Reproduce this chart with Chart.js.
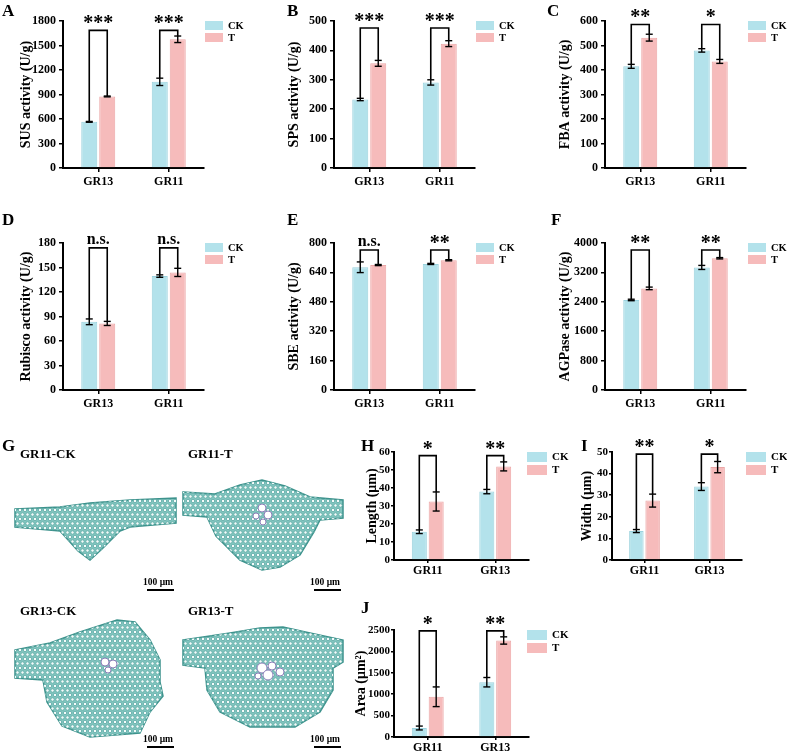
<!DOCTYPE html>
<html>
<head>
<meta charset="utf-8">
<script src="https://cdn.jsdelivr.net/npm/chart.js@4.4.1/dist/chart.umd.min.js"></script>
<style>
  body { margin: 0; background: #fff; width: 787px; height: 752px; position: relative; overflow: hidden;
         font-family: 'Liberation Serif', 'Times New Roman', serif; }
  canvas { position: absolute; }
  .lbl { position: absolute; font-weight: bold; white-space: nowrap; line-height: 1; color: #000; }
  .bar { position: absolute; height: 2px; background: #000; }
</style>
</head>
<body>
<script>
// ---- data ----
const seriesNames = ['CK', 'T'];
const groupsTop = ['GR13', 'GR11'];
const groupsBottom = ['GR11', 'GR13'];

// A: SUS
const susCK = [565, 1055], susCKErr = [5, 45];
const susT = [876, 1576], susTErr = [5, 40];
const susSig = ['***', '***'], susBracketAt = 1685;
const susTicks = [0, 300, 600, 900, 1200, 1500, 1800];

// B: SPS
const spsCK = [233, 291], spsCKErr = [4, 9];
const spsT = [356, 423], spsTErr = [10, 10];
const spsSig = ['***', '***'], spsBracketAt = 476;
const spsTicks = [0, 100, 200, 300, 400, 500];

// C: FBA
const fbaCK = [415, 480], fbaCKErr = [8, 7];
const fbaT = [532, 435], fbaTErr = [14, 8];
const fbaSig = ['**', '*'], fbaBracketAt = 586;
const fbaTicks = [0, 100, 200, 300, 400, 500, 600];

// D: Rubisco
const rubCK = [83.5, 139.5], rubCKErr = [3.5, 1.5];
const rubT = [81.5, 144], rubTErr = [2.5, 5];
const rubSig = ['n.s.', 'n.s.'], rubBracketAt = 174;
const rubTicks = [0, 30, 60, 90, 120, 150, 180];

// E: SBE
const sbeCK = [668, 686], sbeCKErr = [29, 3];
const sbeT = [680, 706], sbeTErr = [3, 3];
const sbeSig = ['n.s.', '**'], sbeBracketAt = 762;
const sbeTicks = [0, 160, 320, 480, 640, 800];

// F: AGPase
const agpCK = [2450, 3335], agpCKErr = [20, 55];
const agpT = [2765, 3585], agpTErr = [35, 18];
const agpSig = ['**', '**'], agpBracketAt = 3810;
const agpTicks = [0, 800, 1600, 2400, 3200, 4000];

// H: length
const lenCK = [15.7, 38], lenCKErr = [1, 1.2];
const lenT = [32.5, 52], lenTErr = [5.3, 2.5];
const lenSig = ['*', '**'], lenBracketAt = 58;
const lenTicks = [0, 10, 20, 30, 40, 50, 60];

// I: width
const widCK = [13.4, 34], widCKErr = [0.7, 1.8];
const widT = [27.5, 43], widTErr = [3, 2.6];
const widSig = ['**', '*'], widBracketAt = 49;
const widTicks = [0, 10, 20, 30, 40, 50];

// J: area
const areaCK = [210, 1280], areaCKErr = [45, 110];
const areaT = [940, 2255], areaTErr = [230, 85];
const areaSig = ['*', '**'], areaBracketAt = 2480;
const areaTicks = [0, 500, 1000, 1500, 2000, 2500];

// ---- styling ----
const FONT = "'Liberation Serif', 'Times New Roman', serif";
const ckFill = '#B3E2EB', ckEdge = '#9BD2DE';
const tFill = '#F6BBBB', tEdge = '#EBA6A6';

const panels = [
  { letter: 'A', lx: 2, ly: 2, box: [0, 0, 262, 195], area: [63, 21, 204, 168], groups: groupsTop,
    ck: susCK, ckErr: susCKErr, t: susT, tErr: susTErr, sig: susSig, bracketAt: susBracketAt, ticks: susTicks,
    yTitle: 'SUS activity (U/g)', titleDx: 37, legDx: 1, small: false },
  { letter: 'B', lx: 287, ly: 2, box: [262, 0, 262, 195], area: [334, 21, 475, 168], groups: groupsTop,
    ck: spsCK, ckErr: spsCKErr, t: spsT, tErr: spsTErr, sig: spsSig, bracketAt: spsBracketAt, ticks: spsTicks,
    yTitle: 'SPS activity (U/g)', titleDx: 40, legDx: 1, small: false },
  { letter: 'C', lx: 547, ly: 2, box: [524, 0, 263, 195], area: [605, 21, 746, 168], groups: groupsTop,
    ck: fbaCK, ckErr: fbaCKErr, t: fbaT, tErr: fbaTErr, sig: fbaSig, bracketAt: fbaBracketAt, ticks: fbaTicks,
    yTitle: 'FBA activity (U/g)', titleDx: 40, legDx: 2, small: false },
  { letter: 'D', lx: 2, ly: 211, box: [0, 195, 262, 225], area: [63, 243, 204, 390], groups: groupsTop,
    ck: rubCK, ckErr: rubCKErr, t: rubT, tErr: rubTErr, sig: rubSig, bracketAt: rubBracketAt, ticks: rubTicks,
    yTitle: 'Rubisco activity (U/g)', titleDx: 37, legDx: 1, small: false },
  { letter: 'E', lx: 287, ly: 211, box: [262, 195, 262, 225], area: [334, 243, 475, 390], groups: groupsTop,
    ck: sbeCK, ckErr: sbeCKErr, t: sbeT, tErr: sbeTErr, sig: sbeSig, bracketAt: sbeBracketAt, ticks: sbeTicks,
    yTitle: 'SBE activity (U/g)', titleDx: 40, legDx: 1, small: false },
  { letter: 'F', lx: 551, ly: 211, box: [524, 195, 263, 225], area: [605, 243, 746, 390], groups: groupsTop,
    ck: agpCK, ckErr: agpCKErr, t: agpT, tErr: agpTErr, sig: agpSig, bracketAt: agpBracketAt, ticks: agpTicks,
    yTitle: 'AGPase activity (U/g)', titleDx: 40, legDx: 2, small: false },
  { letter: 'H', lx: 361, ly: 437, box: [345, 425, 225, 160], area: [394, 452, 529, 560], groups: groupsBottom,
    ck: lenCK, ckErr: lenCKErr, t: lenT, tErr: lenTErr, sig: lenSig, bracketAt: lenBracketAt, ticks: lenTicks,
    yTitle: 'Length (μm)', titleDx: 22, legDx: -2, small: true },
  { letter: 'I', lx: 581, ly: 437, box: [570, 425, 217, 160], area: [612, 452, 742, 560], groups: groupsBottom,
    ck: widCK, ckErr: widCKErr, t: widT, tErr: widTErr, sig: widSig, bracketAt: widBracketAt, ticks: widTicks,
    yTitle: 'Width (μm)', titleDx: 25, legDx: 4, small: true },
  { letter: 'J', lx: 361, ly: 599, box: [345, 590, 225, 162], area: [394, 630, 529, 737], groups: groupsBottom,
    ck: areaCK, ckErr: areaCKErr, t: areaT, tErr: areaTErr, sig: areaSig, bracketAt: areaBracketAt, ticks: areaTicks,
    yTitle: 'Area (μm²)', titleDx: 33, legDx: -2, small: true }
];

function addLabel(text, x, y, size) {
  const d = document.createElement('div');
  d.className = 'lbl';
  d.textContent = text;
  d.style.left = x + 'px';
  d.style.top = y + 'px';
  d.style.fontSize = size + 'px';
  document.body.appendChild(d);
}

function line(ctx, pts) {
  ctx.beginPath();
  ctx.moveTo(pts[0][0], pts[0][1]);
  for (let i = 1; i < pts.length; i++) ctx.lineTo(pts[i][0], pts[i][1]);
  ctx.stroke();
}

// error bars, significance brackets, y title and legend
function decoPlugin(p) {
  return {
    id: 'deco' + p.letter,
    afterDatasetsDraw(chart) {
      const ctx = chart.ctx, ys = chart.scales.y, area = chart.chartArea;
      const metaCK = chart.getDatasetMeta(0), metaT = chart.getDatasetMeta(1);
      ctx.save();
      ctx.strokeStyle = '#000';
      ctx.fillStyle = '#000';
      ctx.lineWidth = 1.4;
      [[metaCK, p.ck, p.ckErr], [metaT, p.t, p.tErr]].forEach(([meta, vals, errs]) => {
        vals.forEach((v, i) => {
          const x = meta.data[i].x;
          const yHi = ys.getPixelForValue(v + errs[i]);
          const yLo = ys.getPixelForValue(v - errs[i]);
          line(ctx, [[x, yHi], [x, yLo]]);
          line(ctx, [[x - 3.5, yHi], [x + 3.5, yHi]]);
          line(ctx, [[x - 3.5, yLo], [x + 3.5, yLo]]);
        });
      });

      ctx.lineWidth = 1.6;
      p.groups.forEach((g, i) => {
        const x0 = metaCK.data[i].x, x1 = metaT.data[i].x;
        const y0 = ys.getPixelForValue(p.ck[i] + p.ckErr[i]);
        const y1 = ys.getPixelForValue(p.t[i] + p.tErr[i]);
        const yb = ys.getPixelForValue(p.bracketAt);
        line(ctx, [[x0, y0], [x0, yb], [x1, yb], [x1, y1]]);
        const stars = p.sig[i].indexOf('*') >= 0;
        ctx.textAlign = 'center';
        ctx.textBaseline = 'alphabetic';
        ctx.font = 'bold ' + (stars ? 20 : 16) + 'px ' + FONT;
        ctx.fillText(p.sig[i], (x0 + x1) / 2, stars ? yb - 1 : yb - 4);
      });

      // y axis title
      ctx.save();
      ctx.translate(area.left - p.titleDx, (area.top + area.bottom) / 2);
      ctx.rotate(-Math.PI / 2);
      ctx.font = 'bold 14px ' + FONT;
      ctx.textAlign = 'center';
      ctx.textBaseline = 'middle';
      ctx.fillText(p.yTitle, 0, 0);
      ctx.restore();

      // legend
      const bw = p.small ? 20 : 18, bh = p.small ? 10 : 9, step = p.small ? 13 : 12;
      const lx = area.right + p.legDx;
      [[ckFill, ckEdge], [tFill, tEdge]].forEach(([fill, edge], k) => {
        const ly = area.top + k * step;
        ctx.fillStyle = fill;
        ctx.fillRect(lx, ly, bw, bh);
        ctx.fillStyle = '#000';
        ctx.font = 'bold ' + (p.small ? 11 : 10.5) + 'px ' + FONT;
        ctx.textAlign = 'left';
        ctx.textBaseline = 'middle';
        ctx.fillText(seriesNames[k], lx + bw + 5, ly + bh / 2 + 0.5);
      });
      ctx.restore();
    }
  };
}

function makePanel(p) {
  const [bx, by, bw, bh] = p.box;
  const [l, t, r, b] = p.area;
  const cv = document.createElement('canvas');
  cv.width = bw;
  cv.height = bh;
  cv.style.left = bx + 'px';
  cv.style.top = by + 'px';
  document.body.appendChild(cv);

  const tickFont = { family: FONT, weight: 'bold', size: p.small ? 11 : 12 };
  const axisGrid = { drawOnChartArea: false, color: '#000', lineWidth: 1.5, tickLength: p.small ? 3 : 4 };
  const catPct = p.small ? 0.5 : 0.51;

  new Chart(cv, {
    type: 'bar',
    data: {
      labels: p.groups,
      datasets: [
        { label: seriesNames[0], data: p.ck, backgroundColor: ckFill, borderColor: ckEdge, borderWidth: 1,
          categoryPercentage: catPct, barPercentage: 0.89 },
        { label: seriesNames[1], data: p.t, backgroundColor: tFill, borderColor: tEdge, borderWidth: 1,
          categoryPercentage: catPct, barPercentage: 0.89 }
      ]
    },
    options: {
      responsive: false,
      animation: false,
      events: [],
      layout: { padding: { left: 0, top: t - by, right: bx + bw - r, bottom: 0 } },
      plugins: { legend: { display: false }, tooltip: { enabled: false } },
      scales: {
        x: {
          offset: true,
          grid: Object.assign({ offset: false }, axisGrid),
          border: { color: '#000', width: 2 },
          ticks: { color: '#000', font: { family: FONT, weight: 'bold', size: 12 }, padding: p.small ? 1 : 3 },
          afterFit: s => { s.height = by + bh - b; }
        },
        y: {
          min: 0,
          max: p.ticks[p.ticks.length - 1],
          grid: axisGrid,
          border: { color: '#000', width: 2 },
          ticks: { stepSize: p.ticks[1] - p.ticks[0], color: '#000', font: tickFont, padding: p.small ? 1 : 3,
                   callback: v => String(v) },
          afterFit: s => { s.width = l - bx; }
        }
      }
    },
    plugins: [decoPlugin(p)]
  });
  addLabel(p.letter, p.lx, p.ly, 17);
}

panels.forEach(makePanel);

// ---- panel G: leaf cross-section sketches ----
const sections = [
  { name: 'GR11-CK', lx: 20, ly: 447, sx: 143, sy: 578,
    outline: [[15,509],[60,507],[90,503],[130,500],[176,498],[176,523],[130,527],[120,531],[102,549],[90,560],[78,551],[60,531],[15,527]],
    vessels: [] },
  { name: 'GR11-T', lx: 188, ly: 447, sx: 310, sy: 578,
    outline: [[183,492],[215,494],[240,485],[262,480],[285,486],[310,497],[343,500],[343,518],[320,520],[314,532],[300,555],[280,567],[262,570],[240,560],[216,536],[207,517],[183,515]],
    vessels: [[262,508,4],[268,515,4],[256,516,3],[263,522,3]] },
  { name: 'GR13-CK', lx: 20, ly: 604, sx: 143, sy: 735,
    outline: [[15,650],[50,643],[80,632],[117,620],[135,622],[150,640],[160,660],[160,682],[163,696],[150,712],[140,733],[90,737],[62,726],[47,702],[43,680],[15,678]],
    vessels: [[105,662,4],[113,664,4],[108,670,3]] },
  { name: 'GR13-T', lx: 188, ly: 604, sx: 310, sy: 735,
    outline: [[183,640],[230,633],[260,628],[283,627],[310,633],[343,640],[343,662],[333,668],[333,690],[320,712],[295,727],[250,727],[220,712],[207,690],[205,668],[183,665]],
    vessels: [[262,668,5],[272,666,4],[268,675,5],[280,672,4],[258,676,3]] }
];

const gCanvas = document.createElement('canvas');
gCanvas.width = 345;
gCanvas.height = 332;
gCanvas.style.left = '0px';
gCanvas.style.top = '420px';
document.body.appendChild(gCanvas);
const gctx = gCanvas.getContext('2d');
gctx.translate(0, -420);
sections.forEach(s => {
  gctx.save();
  gctx.beginPath();
  s.outline.forEach(([x, y], i) => i ? gctx.lineTo(x, y) : gctx.moveTo(x, y));
  gctx.closePath();
  gctx.fillStyle = '#84C6C0';
  gctx.fill();
  gctx.strokeStyle = '#3E938D';
  gctx.lineWidth = 1.5;
  gctx.stroke();
  gctx.clip();
  // cell texture
  const xs = s.outline.map(q => q[0]), ysArr = s.outline.map(q => q[1]);
  const x0 = Math.min(...xs), x1 = Math.max(...xs), y0 = Math.min(...ysArr), y1 = Math.max(...ysArr);
  gctx.fillStyle = '#F4FBFA';
  gctx.strokeStyle = '#4FA39D';
  gctx.lineWidth = 0.7;
  for (let y = y0 + 3, row = 0; y < y1; y += 4.5, row++) {
    for (let x = x0 + (row % 2 ? 2.5 : 0); x < x1; x += 5) {
      gctx.beginPath();
      gctx.arc(x, y, 1.7, 0, Math.PI * 2);
      gctx.fill();
      gctx.stroke();
    }
  }
  gctx.fillStyle = '#FFFFFF';
  gctx.strokeStyle = '#8C7FB8';
  gctx.lineWidth = 1;
  s.vessels.forEach(([x, y, rad]) => {
    gctx.beginPath();
    gctx.arc(x, y, rad, 0, Math.PI * 2);
    gctx.fill();
    gctx.stroke();
  });
  gctx.restore();

  addLabel(s.name, s.lx, s.ly, 13);
  addLabel('100 μm', s.sx, s.sy, 9.5);
  const bar = document.createElement('div');
  bar.className = 'bar';
  bar.style.left = (s.sx + 4) + 'px';
  bar.style.top = (s.sy + 11) + 'px';
  bar.style.width = '27px';
  document.body.appendChild(bar);
});
addLabel('G', 2, 437, 17);
</script>
</body>
</html>
